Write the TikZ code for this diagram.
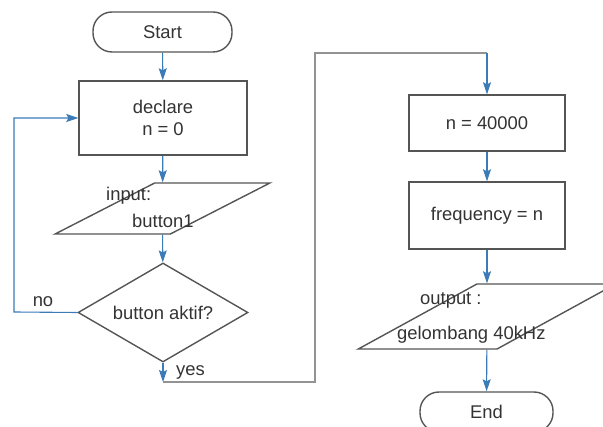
\documentclass[tikz,border=0pt]{standalone}
\usepackage{fontspec}
\setmainfont{Liberation Sans}
\usetikzlibrary{arrows.meta,shapes.geometric}
\definecolor{flowblue}{HTML}{3B7BB8}
\definecolor{edge}{HTML}{555555}
\definecolor{ink}{HTML}{333333}

\begin{document}
\begin{tikzpicture}[x=1pt, y=-1pt,
  every node/.style={text=ink, font=\fontsize{18.4}{22}\selectfont},
  term/.style={draw=edge, line width=1.4pt, rectangle, rounded corners=19pt, inner sep=0pt},
  proc/.style={draw=edge, line width=1.4pt, rectangle, inner sep=0pt, align=center},
  io/.style={draw=edge, line width=1.4pt, trapezium, trapezium stretches=true, inner sep=2pt},
  choice/.style={draw=edge, line width=1.4pt, diamond, aspect=1.7, inner sep=0pt},
  txt/.style={inner sep=0pt, anchor=west},
  flow/.style={draw=flowblue, line width=1.1pt, -{Stealth[length=12pt, width=8pt, inset=2pt]}},
  back/.style={draw=gray!85, line width=1.3pt}]
\useasboundingbox (0,0) rectangle (603,427);

% left column
\node (start) [term, minimum width=139, minimum height=40] at (162.5,32) {Start};
\node (declare) [proc, minimum width=168, minimum height=74] at (163,118) {declare\\n = 0};
\node (input) [io, minimum width=215, minimum height=51,
  trapezium left angle=45.6, trapezium right angle=134.4] at (162.5,208.5) {\strut};
\node (inlbl) [txt] at (106,196) {input:};
\node (btnlbl) [txt] at (132,221) {button1};
\node (check) [choice, minimum width=170, minimum height=99] at (163,312.5) {button aktif?};

% right column
\node (setn) [proc, minimum width=156, minimum height=56] at (487,123) {n = 40000};
\node (freq) [proc, minimum width=156, minimum height=67] at (487,215.5) {frequency = n};
\node (output) [io, minimum width=258, minimum height=65,
  trapezium left angle=47.8, trapezium right angle=132.2] at (487,316.5) {\strut};
\node (outlbl) [txt] at (420,300) {output :};
\node (wavelbl) [txt] at (397,335) {gelombang 40kHz};
\node (end) [term, minimum width=133, minimum height=40] at (486.5,412) {End};

\coordinate (nocorner) at (14,312);
\coordinate (yesdown) at (163,382);
\coordinate (yesup) at (315,53);
\coordinate (yestop) at (487,53);

\draw[flow] (start) -- (declare);
\draw[flow] (declare) -- (input);
\draw[flow] (input) -- (check);
\draw[flow] (check.west) -- (nocorner) |- (declare.west);
\node (nolbl) at (43,302) {no};
\draw[flow] (check.south) -- (yesdown);
\node (yeslbl) [txt] at (176,372) {yes};
\draw[back] (yesdown) -| (yesup) -- (yestop);
\draw[flow] (yestop) -- (setn);
\draw[flow] (setn) -- (freq);
\draw[flow] (freq) -- (output);
\draw[flow] (output) -- (end);
\end{tikzpicture}
\end{document}
